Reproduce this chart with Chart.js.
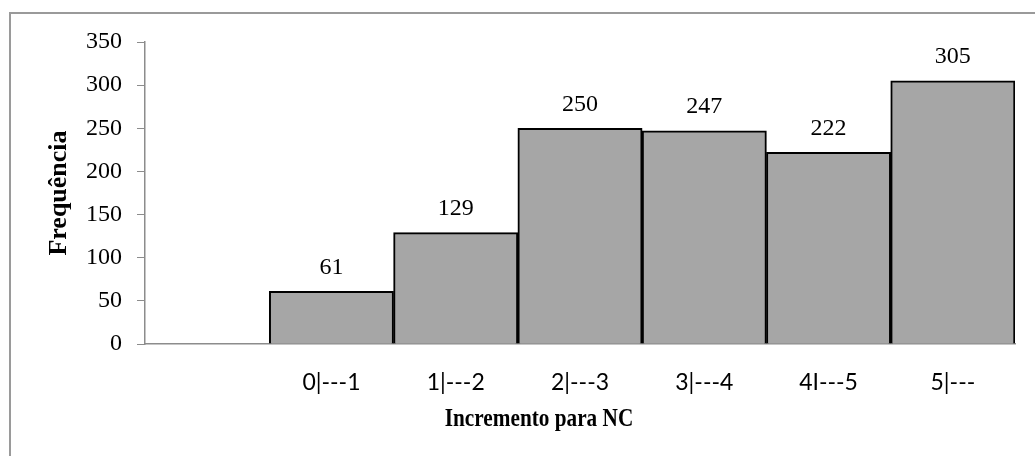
<!DOCTYPE html>
<html>
<head>
<meta charset="utf-8">
<script src="https://cdn.jsdelivr.net/npm/chart.js@4"></script>
<style>
  body { margin: 0; background: #fff; }
  #wrap { position: relative; width: 1035px; height: 456px; overflow: hidden; }
  #frame { position: absolute; left: 9px; top: 12px; width: 1100px; height: 520px; border-top: 2px solid #9a9a9a; border-left: 2px solid #9a9a9a; }
  #chart { position: absolute; left: 0; top: 0; width: 1035px; height: 456px; }
</style>
</head>
<body>
<div id="wrap">
  <div id="frame"></div>
  <div id="chart"><canvas></canvas></div>
</div>
<script>
// Classes of the increment and how many fall in each
const classes = ['', '0|---1', '1|---2', '2|---3', '3|---4', '4I---5', '5|---'];
const freq = [null, 61, 129, 250, 247, 222, 305];
const y_ticks = [0, 50, 100, 150, 200, 250, 300, 350];

const serif = "'Liberation Serif', 'Times New Roman', serif";

// Value above every bar
const barValues = {
  id: 'barValues',
  afterDatasetsDraw(chart) {
    const ctx = chart.ctx;
    const meta = chart.getDatasetMeta(0);
    ctx.save();
    ctx.font = '24px ' + serif;
    ctx.fillStyle = '#000';
    ctx.textAlign = 'center';
    ctx.textBaseline = 'middle';
    meta.data.forEach((bar, i) => {
      if (freq[i] == null) return;
      ctx.fillText(freq[i], bar.x, bar.y - 24);
    });
    ctx.restore();
  }
};

// X axis title, a bit narrow and left of the plot centre
const xTitle = {
  id: 'xTitle',
  afterDraw(chart) {
    const ctx = chart.ctx;
    ctx.save();
    ctx.translate(539, 420);
    ctx.scale(0.85, 1);
    ctx.font = 'bold 25px ' + serif;
    ctx.fillStyle = '#000';
    ctx.textAlign = 'center';
    ctx.textBaseline = 'middle';
    ctx.fillText('Incremento para NC', 0, 0);
    ctx.restore();
  }
};

new Chart(document.querySelector('#chart canvas'), {
  type: 'bar',
  data: {
    labels: classes,
    datasets: [{
      data: freq,
      backgroundColor: '#a6a6a6',
      borderColor: '#000',
      borderWidth: 2,
      barPercentage: 1,
      categoryPercentage: 1
    }]
  },
  options: {
    responsive: true,
    maintainAspectRatio: false,
    animation: false,
    layout: { padding: { left: 44, right: 20, top: 42, bottom: 0 } },
    plugins: {
      legend: { display: false },
      tooltip: { enabled: false }
    },
    scales: {
      x: {
        grid: { display: false },
        border: { display: true, color: '#8c8c8c', width: 1.5 },
        ticks: {
          color: '#000',
          padding: 17,
          maxRotation: 0,
          font: { family: "Lato, 'Open Sans', sans-serif", size: 23 }
        },
        afterFit(s) { s.height = 112; }
      },
      y: {
        min: 0,
        max: 350,
        afterBuildTicks(s) { s.ticks = y_ticks.map(v => ({ value: v })); },
        grid: { drawOnChartArea: false, drawTicks: true, tickLength: 8, color: '#8c8c8c' },
        border: { display: true, color: '#8c8c8c', width: 1.5 },
        ticks: {
          color: '#000',
          padding: 15,
          font: { family: serif, size: 24 }
        },
        title: {
          display: true,
          text: 'Frequência',
          color: '#000',
          padding: 0,
          font: { family: serif, size: 26, weight: 'bold' }
        },
        afterFit(s) { s.width = 101; }
      }
    }
  },
  plugins: [barValues, xTitle]
});
</script>
</body>
</html>
